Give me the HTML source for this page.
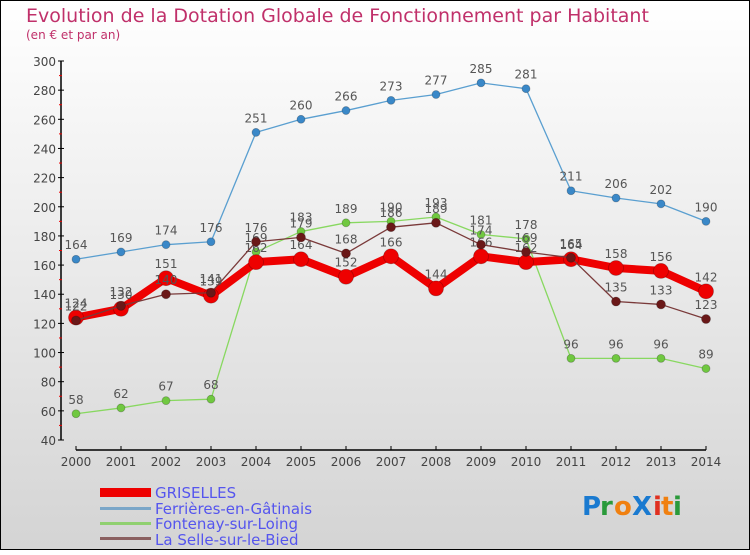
<!DOCTYPE html>
<html><head><meta charset="utf-8">
<style>
html,body{margin:0;padding:0}
body{width:750px;height:550px;overflow:hidden;font-family:"Liberation Sans",sans-serif}
svg text{font-family:"DejaVu Sans","Liberation Sans",sans-serif}
</style></head>
<body>
<svg id="chart" width="750" height="550" xmlns="http://www.w3.org/2000/svg">
<defs>
<linearGradient id="bg" x1="0" y1="0" x2="0" y2="1">
<stop offset="0" stop-color="#ffffff"/><stop offset="1" stop-color="#d4d4d4"/>
</linearGradient>
</defs>
<rect x="0.5" y="0.5" width="749" height="549" fill="url(#bg)" stroke="#000"/>
<text x="26" y="22" font-size="19" fill="#c0306a">Evolution de la Dotation Globale de Fonctionnement par Habitant</text>
<text x="26" y="39" font-size="12" fill="#c0306a">(en € et par an)</text>
<g id="axes"></g>
<g id="series"></g>
<g id="legend">
<rect x="100" y="488" width="51" height="9" fill="#e00"/>
<text x="155" y="498" font-size="15" fill="#5555ee">GRISELLES</text>
<rect x="100" y="507" width="51" height="3" fill="#7aa6c8"/>
<text x="155" y="514" font-size="15" fill="#5555ee">Ferrières-en-Gâtinais</text>
<rect x="100" y="522" width="51" height="3" fill="#90d070"/>
<text x="155" y="529" font-size="15" fill="#5555ee">Fontenay-sur-Loing</text>
<rect x="100" y="537" width="51" height="3" fill="#8a6060"/>
<text x="155" y="545" font-size="15" fill="#5555ee">La Selle-sur-le-Bied</text>
</g>
<g font-size="26" font-weight="bold">
<text x="582" y="515" fill="#1a7ad0">P</text><text x="600" y="515" fill="#2a9a3a">r</text><text x="614" y="515" fill="#f08010">o</text><text x="632" y="515" fill="#1a7ad0">X</text><text x="653" y="515" fill="#e03020">i</text><text x="661" y="515" fill="#f08010">t</text><text x="673" y="515" fill="#2a9a3a">i</text>
</g>
</svg>
<script>
const years = [2000,2001,2002,2003,2004,2005,2006,2007,2008,2009,2010,2011,2012,2013,2014];
const griselles = [124,130,151,139,162,164,152,166,144,166,162,164,158,156,142];
const ferrieres = [164,169,174,176,251,260,266,273,277,285,281,211,206,202,190];
const fontenay = [58,62,67,68,169,183,189,190,193,181,178,96,96,96,89];
const laselle = [122,132,140,141,176,179,168,186,189,174,169,165,135,133,123];
const yTicks = [40,60,80,100,120,140,160,180,200,220,240,260,280,300];

const NS = "http://www.w3.org/2000/svg";
const x = i => 76 + i * 45;
const y = v => 440 - (v - 40) * (379 / 260);
function mk(tag, attrs, parent){const e=document.createElementNS(NS,tag);for(const k in attrs)e.setAttribute(k,attrs[k]);parent.appendChild(e);return e;}
const axes = document.getElementById('axes');
const ser = document.getElementById('series');

let ya = mk('line',{x1:61,y1:y(300),x2:61,y2:440,stroke:'#000','stroke-width':1.5},axes);


yTicks.forEach(t=>{
  let l = mk('line',{x1:58,y1:y(t),x2:64,y2:y(t),stroke:'#000'},axes);
  
  
  let tx = mk('text',{x:56,y:y(t)+5,'font-size':12,'text-anchor':'end',fill:'#444'},axes);
  tx.textContent = t;
  
  
  if(t<300){
    let m = mk('line',{x1:59,y1:y(t+10),x2:62,y2:y(t+10),stroke:'#e00'},axes);
    
    
  }
});
let xa = mk('line',{x1:x(0),y1:450,x2:x(years.length-1),y2:450,stroke:'#000','stroke-width':1.5},axes);


years.forEach((yr,i)=>{
  let l = mk('line',{x1:x(i),y1:446,x2:x(i),y2:450,stroke:'#000'},axes);
  
  
  let tx = mk('text',{x:x(i),y:466,'font-size':12,'text-anchor':'middle',fill:'#444'},axes);
  tx.textContent = yr;
  
  
});

function series(vals,color,dot,w,r,name){
  const g = mk('g',{},ser);
  
  
  const pts = vals.map((v,i)=>x(i)+','+y(v)).join(' ');
  let pl = mk('polyline',{points:pts,fill:'none',stroke:color,'stroke-width':w,'stroke-linejoin':'round'},g);
  
  
  vals.forEach((v,i)=>{
    let c = mk('circle',{cx:x(i),cy:y(v),r:r,fill:dot,stroke:'rgba(0,0,0,0.25)','stroke-width':0.8},g);
    
    
    let t = mk('text',{x:x(i),y:y(v)-10,'font-size':12,'text-anchor':'middle',fill:'#555'},g);
    t.textContent = v;
    
    
  });
}
series(ferrieres,'#5a9fd0','#3a88c8',1.3,4,'ferrieres');
series(fontenay,'#88d860','#70c840',1.3,4,'fontenay');
series(griselles,'#ee0000','#ee0000',8,7.5,'griselles');
series(laselle,'#7a3a3a','#6a1818',1.3,4.5,'laselle');
</script>
</body></html>
